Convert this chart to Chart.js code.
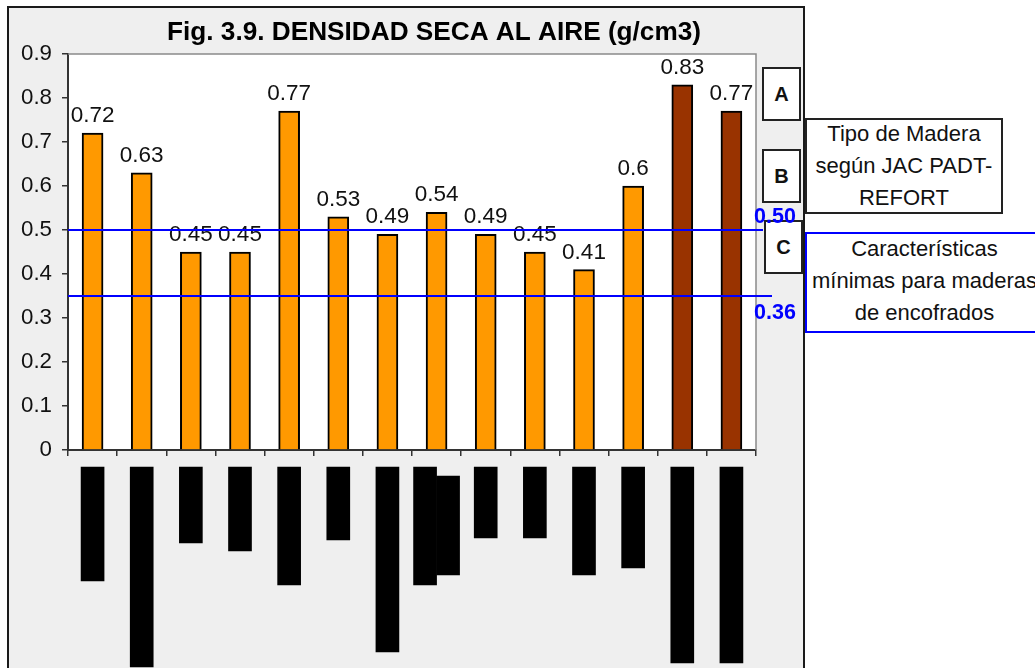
<!DOCTYPE html>
<html>
<head>
<meta charset="utf-8">
<script src="https://cdn.jsdelivr.net/npm/chart.js@4"></script>
<style>
  html, body { margin: 0; padding: 0; background: #fff; width: 1035px; height: 668px; overflow: hidden; }
  body { position: relative; font-family: "Liberation Sans", Arial, sans-serif; color: #111; }
  .frame { position: absolute; left: 7px; top: 6px; width: 798px; height: 700px; box-sizing: border-box; border: 2px solid #1a1a1a; background: #efefef; }
  .box { position: absolute; box-sizing: border-box; background: #fff; border: 2px solid #222; }
  .tag { display: flex; align-items: center; justify-content: center; font-weight: bold; font-size: 20px; }
  .note { text-align: center; font-size: 22px; line-height: 32px; }
  .note div { position: relative; }
  canvas { position: absolute; left: 0; }
</style>
</head>
<body>
<div class="frame"></div>
<div class="box tag" style="left:762px;top:67px;width:39px;height:54px;">A</div>
<div class="box tag" style="left:762px;top:149px;width:39px;height:54px;">B</div>
<div class="box tag" style="left:764px;top:220px;width:39px;height:54px;">C</div>
<div class="box note" style="left:805px;top:118px;width:198px;height:96px;"><div style="top:-2px;">Tipo de Madera<br>según JAC PADT-<br>REFORT</div></div>
<div class="box note" style="left:805px;top:232px;width:245px;height:101px;border-color:#0000ff;"><div style="top:-1px;left:-3px;">Características<br>mínimas para maderas<br>de encofrados</div></div>
<canvas id="mainChart" width="1035" height="668" style="top:0;"></canvas>
<canvas id="labelChart" width="1035" height="210" style="top:458px;"></canvas>
<script>
// data
const categories = ["M1", "M2", "M3", "M4", "M5", "M6", "M7", "M8", "M9", "M10", "M11", "M12", "M13", "M14"];
const density = [0.72, 0.63, 0.45, 0.45, 0.77, 0.53, 0.49, 0.54, 0.49, 0.45, 0.41, 0.60, 0.83, 0.77];
const woodGroup = ["ensayo", "ensayo", "ensayo", "ensayo", "ensayo", "ensayo", "ensayo", "ensayo", "ensayo", "ensayo", "ensayo", "ensayo", "referencia", "referencia"];
const yTicks = [0, 0.1, 0.2, 0.3, 0.4, 0.5, 0.6, 0.7, 0.8, 0.9];
const refValues = [0.50, 0.35];
const refLabels = ["0.50", "0.36"];
const titleText = "Fig. 3.9. DENSIDAD SECA AL AIRE (g/cm3)";

// hidden (blacked out) category names: start / end of each block
const labelStart = [0.9, 0.9, 0.9, 0.9, 0.9, 0.9, 0.9, 0.9, 0.9, 0.9, 0.9, 0.9, 0.9, 0.9];
const labelEnd = [12.3, 20.9, 8.5, 9.3, 12.7, 8.2, 19.4, 12.7, 8.0, 8.0, 11.7, 11.0, 20.5, 20.5];
const label2Start = [null, null, null, null, null, null, null, 1.8, null, null, null, null, null, null];
const label2End = [null, null, null, null, null, null, null, 11.7, null, null, null, null, null, null];

const FONT = '"Liberation Sans", Arial, sans-serif';
Chart.defaults.font.family = FONT;
Chart.defaults.color = "#111";

const groupColor = { ensayo: "#ff9900", referencia: "#993300" };

const framePlugin = {
  id: "frame",
  beforeDraw(chart) {
    const { ctx, chartArea: a } = chart;
    ctx.save();
    ctx.fillStyle = "#fff";
    ctx.fillRect(a.left, a.top, a.right - a.left, a.bottom - a.top);
    ctx.restore();
  },
  beforeDatasetsDraw(chart) {
    const { ctx, chartArea: a } = chart;
    ctx.save();
    ctx.strokeStyle = "#8a8a8a";
    ctx.lineWidth = 1.5;
    ctx.beginPath();
    ctx.moveTo(a.left, a.top);
    ctx.lineTo(a.right, a.top);
    ctx.lineTo(a.right, a.bottom);
    ctx.stroke();
    ctx.restore();
  },
  afterDatasetsDraw(chart) {
    const { ctx, chartArea: a } = chart;
    const y = chart.scales.y;
    ctx.save();
    // value labels
    ctx.font = "22.5px " + FONT;
    ctx.fillStyle = "#111";
    ctx.textAlign = "center";
    ctx.textBaseline = "alphabetic";
    chart.getDatasetMeta(0).data.forEach((bar, i) => {
      ctx.fillText(String(density[i]), bar.x, bar.y - 11);
    });
    // reference lines
    const lineEnds = [a.right + 7, a.right + 16];
    ctx.strokeStyle = "#0000ff";
    ctx.lineWidth = 2;
    refValues.forEach((v, i) => {
      const py = y.getPixelForValue(v);
      ctx.beginPath();
      ctx.moveTo(a.left, py);
      ctx.lineTo(lineEnds[i], py);
      ctx.stroke();
    });
    ctx.font = "bold 21.5px " + FONT;
    ctx.fillStyle = "#0000ff";
    ctx.textAlign = "left";
    const labelDy = [-7, 23];
    refValues.forEach((v, i) => {
      ctx.fillText(refLabels[i], a.right - 2, y.getPixelForValue(v) + labelDy[i]);
    });
    ctx.restore();
  },
  afterDraw(chart) {
    const { ctx } = chart;
    ctx.save();
    ctx.font = "bold 26.2px " + FONT;
    ctx.fillStyle = "#000";
    ctx.textAlign = "center";
    ctx.textBaseline = "alphabetic";
    ctx.fillText(titleText, 434, 40);
    ctx.restore();
  }
};

new Chart(document.getElementById("mainChart"), {
  type: "bar",
  data: {
    labels: categories,
    datasets: [{
      label: "Densidad seca al aire",
      data: density,
      backgroundColor: woodGroup.map(g => groupColor[g]),
      borderColor: "#000",
      borderWidth: 2,
      barThickness: 21
    }]
  },
  options: {
    responsive: false,
    animation: false,
    layout: { padding: { left: 0, right: 279, top: 54, bottom: 0 } },
    plugins: { legend: { display: false }, tooltip: { enabled: false }, title: { display: false } },
    scales: {
      x: {
        ticks: { display: false },
        grid: { drawOnChartArea: false, drawTicks: true, tickLength: 6, offset: true, color: "#333", lineWidth: 1.5 },
        border: { color: "#333", width: 2 },
        afterFit: s => { s.height = 218; }
      },
      y: {
        min: 0,
        max: 0.9,
        afterBuildTicks: s => { s.ticks = yTicks.map(v => ({ value: v })); },
        ticks: { font: { size: 22.3 }, color: "#111", padding: 10, callback: v => String(v) },
        grid: { drawOnChartArea: false, tickLength: 6, color: "#333", lineWidth: 1.5 },
        border: { color: "#333", width: 2 },
        afterFit: s => { s.width = 68; }
      }
    }
  },
  plugins: [framePlugin]
});

new Chart(document.getElementById("labelChart"), {
  type: "bar",
  data: {
    labels: categories,
    datasets: [{
      data: labelStart.map((s, i) => [s, labelEnd[i]]),
      backgroundColor: "#000",
      borderWidth: 0,
      barThickness: 23,
      skipNull: true
    }, {
      data: label2Start.map((s, i) => (s === null ? null : [s, label2End[i]])),
      backgroundColor: "#000",
      borderWidth: 0,
      barThickness: 23,
      skipNull: true
    }]
  },
  options: {
    responsive: false,
    animation: false,
    layout: { padding: { left: 68, right: 279, top: 0, bottom: 0 } },
    plugins: { legend: { display: false }, tooltip: { enabled: false } },
    scales: {
      x: { display: false },
      y: { display: false, min: 0, max: 21, reverse: true }
    }
  }
});
</script>
</body>
</html>
